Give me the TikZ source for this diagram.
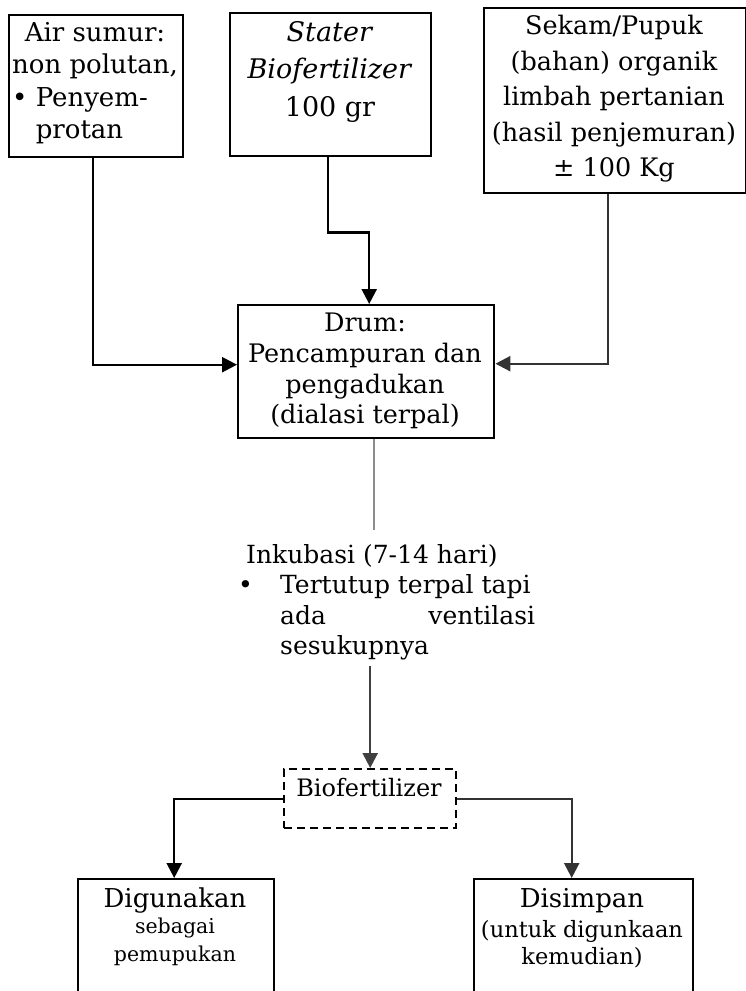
\documentclass[tikz,border=0pt]{standalone}
\usepackage{fontspec}
\setmainfont{DejaVu Serif}
\usetikzlibrary{arrows.meta}
\begin{document}
\begin{tikzpicture}[x=1pt,y=-1pt,
  box/.style={draw,line width=2.4pt,anchor=north west,inner sep=0pt},
  dbox/.style={box,dash pattern=on 8pt off 5pt},
  txt/.style={align=center,inner sep=0pt,anchor=north,font=\fontsize{26}{32}\selectfont},
  smalltxt/.style={txt,font=\fontsize{20.5}{28}\selectfont},
  conn/.style={line width=2.4pt,-{Triangle[length=15pt,width=15pt]}},
  plain/.style={line width=2.4pt}
]
\useasboundingbox (0,0) rectangle (746,991);
\clip (0,0) rectangle (746,991);

% boxes
\node[box,minimum width=174pt,minimum height=142pt] (air) at (8,14) {};
\node[box,minimum width=201pt,minimum height=143pt] (stater) at (229,12) {};
\node[box,minimum width=262pt,minimum height=185pt] (sekam) at (483,7) {};
\node[box,minimum width=256pt,minimum height=133pt] (drum) at (237,304) {};
\node[dbox,minimum width=172pt,minimum height=59pt] (bio) at (283,768) {};
\node[box,minimum width=196pt,minimum height=140pt] (guna) at (77,878) {};
\node[box,minimum width=219pt,minimum height=140pt] (simp) at (473,878) {};

% texts
\node[txt] (airt) at (95,22) {Air sumur:\\non polutan,};
\node[txt,anchor=north west,align=left] (airb) at (12,87) {\textbullet\ Penyem-\\\hphantom{\textbullet\ }protan};
\node[txt,font=\fontsize{27}{37.5}\selectfont] (statert) at (330,21) {\textit{Stater}\\\textit{Biofertilizer}\\100 gr};
\node[txt,font=\fontsize{25.5}{35.5}\selectfont] (sekamt) at (614,15) {Sekam/Pupuk\\(bahan) organik\\limbah pertanian\\(hasil penjemuran)\\± 100 Kg};
\node[txt,font=\fontsize{25.5}{30.7}\selectfont] (drumt) at (365,313) {Drum:\\Pencampuran dan\\pengadukan\\(dialasi terpal)};
\node[txt,font=\fontsize{24}{30}\selectfont] (biot) at (369,778) {Biofertilizer};
\node[txt,anchor=north west,align=left,inner ysep=6pt,font=\fontsize{25}{30.5}\selectfont] (incub) at (238,538)
  {\hspace*{8pt}Inkubasi (7-14 hari)\\
   \makebox[42pt][l]{\textbullet}Tertutup terpal tapi\\
   \hspace*{42pt}\makebox[255pt][s]{ada\hfill ventilasi}\\
   \hspace*{42pt}sesukupnya};
\node[txt] (gunat) at (175,888) {Digunakan};
\node[smalltxt] (gunas) at (175,918) {sebagai\\pemupukan};
\node[txt] (simpt) at (582,888) {Disimpan};
\node[smalltxt,font=\fontsize{22.5}{27}\selectfont] (simps) at (582,920) {(untuk digunkaan\\kemudian)};

% connectors
\draw[conn] ([xshift=-3pt]air.south) |- ([yshift=7pt]drum.west);
\draw[conn] ([xshift=-3pt]stater.south) -- ++(0,75) -| ([xshift=3pt]drum.north);
\draw[conn,draw=black!80] ([xshift=-7pt]sekam.south) |- ([yshift=8pt]drum.east);
\draw[plain,draw=black!45] ([xshift=8pt]drum.south) -- ([xshift=8pt,yshift=8pt]drum.south |- incub.north);
\draw[conn,draw=black!75] (bio.north |- incub.south) -- (bio.north);
\draw[conn] (bio.west) -| ([xshift=-2pt]guna.north);
\draw[conn,draw=black!80] (bio.east) -| ([xshift=-12pt]simp.north);
\end{tikzpicture}
\end{document}
